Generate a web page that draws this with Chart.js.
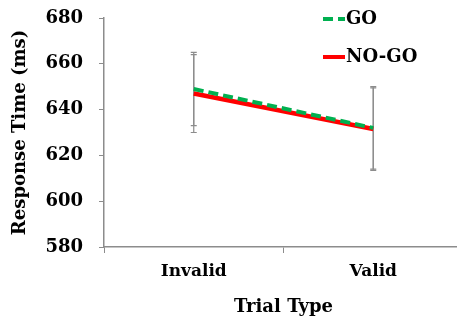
<!DOCTYPE html>
<html>
<head>
<meta charset="utf-8">
<script src="https://cdn.jsdelivr.net/npm/chart.js@4"></script>
<style>
  html, body { margin: 0; padding: 0; background: #fff; overflow: hidden; }
  #rtChart { display: block; }
</style>
</head>
<body>
<canvas id="rtChart" width="463" height="320"></canvas>
<script>
// Trial types and mean response times (ms)
var trialTypes = ["Invalid", "Valid"];
var goValues = [649, 632];
var nogoValues = [647, 631.5];
// error bar half-widths (ms)
var goErrors = [16, 18];
var nogoErrors = [17, 18];
var yTicks = [580, 600, 620, 640, 660, 680];

var serif = "'DejaVu Serif', 'Liberation Serif', serif";

// error bars drawn behind the lines
var errorBars = {
  id: "errorBars",
  beforeDatasetsDraw: function (chart) {
    var ctx = chart.ctx;
    var y = chart.scales.y;
    ctx.save();
    ctx.strokeStyle = "#8c8c8c";
    ctx.lineWidth = 1.2;
    chart.data.datasets.forEach(function (ds, i) {
      var meta = chart.getDatasetMeta(i);
      ds.errors.forEach(function (e, j) {
        var x = meta.data[j].x;
        var top = y.getPixelForValue(ds.data[j] + e);
        var bot = y.getPixelForValue(ds.data[j] - e);
        ctx.beginPath();
        ctx.moveTo(x, top); ctx.lineTo(x, bot);
        ctx.moveTo(x - 3, top); ctx.lineTo(x + 3, top);
        ctx.moveTo(x - 3, bot); ctx.lineTo(x + 3, bot);
        ctx.stroke();
      });
    });
    ctx.restore();
  }
};

// legend in the top right corner
var cornerLegend = {
  id: "cornerLegend",
  afterDraw: function (chart) {
    var ctx = chart.ctx;
    ctx.save();
    ctx.font = "bold 18px " + serif;
    ctx.textBaseline = "middle";
    ctx.fillStyle = "#000";
    var rows = [19, 57];
    chart.data.datasets.forEach(function (ds, i) {
      var yy = rows[i];
      ctx.strokeStyle = ds.borderColor;
      ctx.lineWidth = 4;
      ctx.setLineDash(ds.borderDash || []);
      ctx.beginPath();
      ctx.moveTo(323, yy); ctx.lineTo(345, yy);
      ctx.stroke();
      ctx.setLineDash([]);
      ctx.fillText(ds.label, 346, yy);
    });
    ctx.restore();
  }
};

var ctx = document.getElementById("rtChart").getContext("2d");
var rtChart = new Chart(ctx, {
  type: "line",
  data: {
    labels: trialTypes,
    datasets: [{
      label: "GO",
      data: goValues,
      errors: goErrors,
      borderColor: "#00b050",
      borderWidth: 4,
      borderDash: [10, 5],
      pointRadius: 0,
      fill: false
    }, {
      label: "NO-GO",
      data: nogoValues,
      errors: nogoErrors,
      borderColor: "#ff0000",
      borderWidth: 4.5,
      pointRadius: 0,
      fill: false
    }]
  },
  options: {
    responsive: false,
    animation: false,
    layout: { padding: { top: 18, right: 0, left: 10, bottom: 2 } },
    plugins: {
      legend: { display: false },
      tooltip: { enabled: false }
    },
    scales: {
      x: {
        offset: true,
        grid: { drawOnChartArea: false, drawTicks: true, offset: true, tickLength: 6, color: "#8c8c8c" },
        border: { color: "#8c8c8c", width: 1.5 },
        ticks: { color: "#000", padding: 8, font: { family: serif, size: 17, weight: "bold" } },
        title: {
          display: true, text: "Trial Type", color: "#000",
          padding: { top: 8, bottom: 0 },
          font: { family: serif, size: 18, weight: "bold" }
        },
        afterFit: function (s) { s.height = 71; s.paddingLeft = 0; s.paddingRight = 0; }
      },
      y: {
        min: 580,
        max: 680,
        afterBuildTicks: function (s) { s.ticks = yTicks.map(function (v) { return { value: v }; }); },
        grid: { drawOnChartArea: false, drawTicks: true, tickLength: 5, color: "#8c8c8c" },
        border: { color: "#8c8c8c", width: 1.5 },
        ticks: { color: "#000", padding: 16, font: { family: serif, size: 18, weight: "bold" } },
        title: {
          display: true, text: "Response Time (ms)", color: "#000",
          padding: { top: 0, bottom: 4 },
          font: { family: serif, size: 18, weight: "bold" }
        },
        afterFit: function (s) { s.width = 94; s.paddingTop = 0; s.paddingBottom = 0; }
      }
    }
  },
  plugins: [errorBars, cornerLegend]
});
</script>
</body>
</html>
